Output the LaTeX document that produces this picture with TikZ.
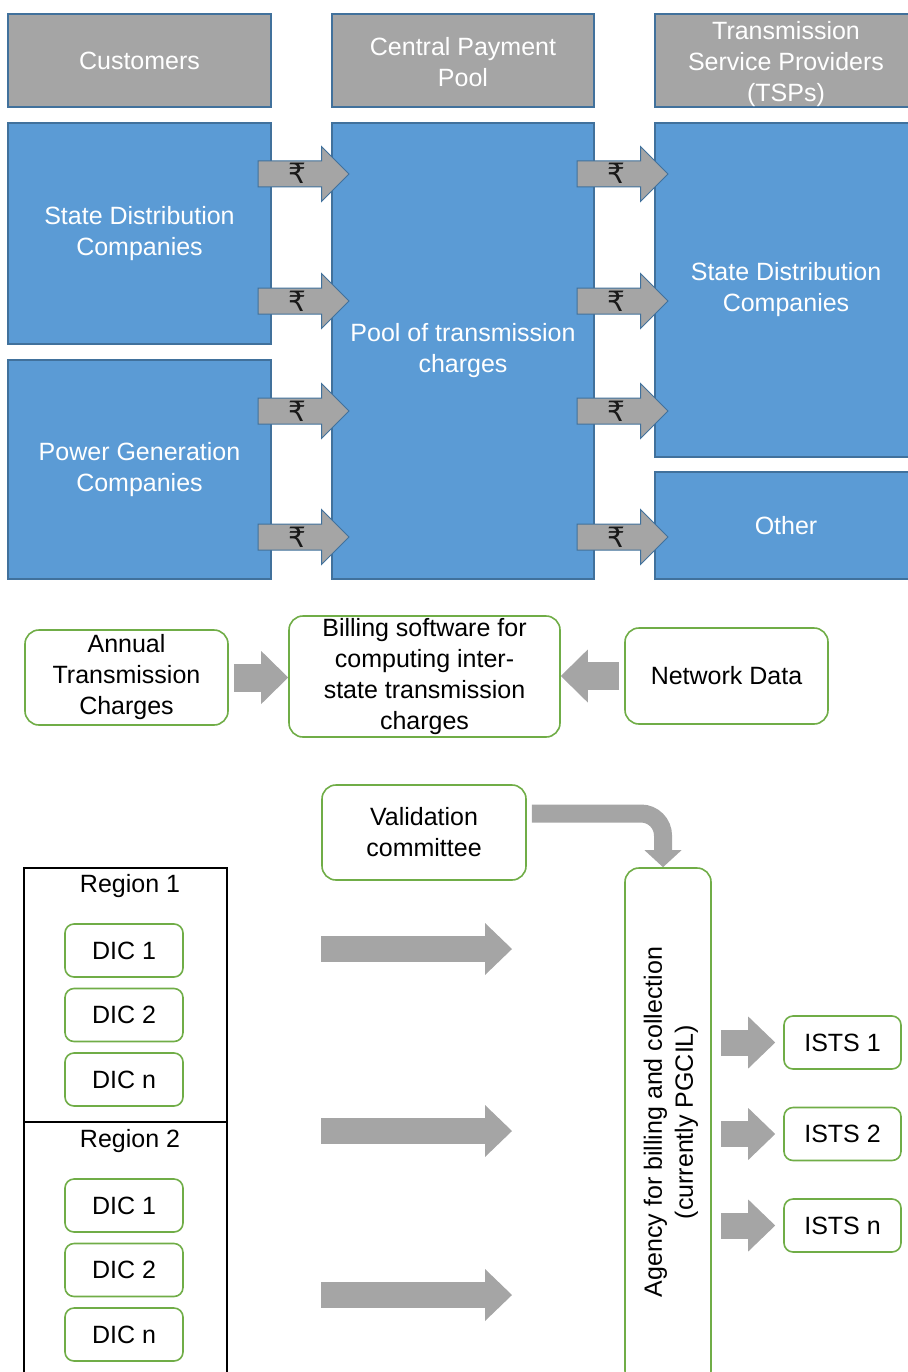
\documentclass[tikz,border=0pt]{standalone}
\usepackage{fontspec}
\setmainfont{Liberation Sans}
\newfontfamily\rupeefont{DejaVu Sans}
\usetikzlibrary{shapes.arrows, arrows.meta, positioning, calc}
\definecolor{hdrgray}{HTML}{A5A5A5}
\definecolor{edgeblue}{HTML}{41719C}
\definecolor{partyblue}{HTML}{5B9BD5}
\definecolor{boxgreen}{HTML}{70AD47}
\definecolor{arrowgray}{HTML}{A5A5A5}

\begin{document}
\begin{tikzpicture}[x=1pt, y=-1pt,
    every node/.style={font=\fontsize{25}{31}\selectfont},
    header/.style={rectangle, draw=edgeblue, fill=hdrgray, line width=1.2pt,
                   text=white, align=center, inner sep=0pt},
    party/.style={rectangle, draw=edgeblue, fill=partyblue, line width=1.2pt,
                  text=white, align=center, inner sep=0pt},
    greenbox/.style={rectangle, draw=boxgreen, fill=white, line width=1.6pt,
                     rounded corners=14pt, align=center, inner sep=0pt},
    dicbox/.style={greenbox, rounded corners=9pt, minimum width=118pt, minimum height=53pt},
    regionbox/.style={rectangle, draw=black, line width=2pt, minimum width=203pt},
    rupee/.style={single arrow, draw=edgeblue, fill=hdrgray, line width=1pt,
                  minimum height=91pt, single arrow head extend=14.5pt,
                  inner xsep=0pt, inner ysep=2.5pt, text height=20pt, text depth=0pt,
                  font=\rupeefont\fontsize{28}{28}\selectfont, text=black!90},
    flow/.style={draw=arrowgray, line width=26pt,
                 -{Triangle[width=52pt, length=27pt, line width=0pt]}}
]
    \useasboundingbox (0,0) rectangle (907,1372);

    % payment pool
    \node[header, minimum width=263pt, minimum height=93pt] (cust) at (139.5,60.5) {Customers};
    \node[header, minimum width=262pt, minimum height=93pt] (cpp)  at (463,60.5) {};
    \node[text=white, align=center] (cpplbl) at (463,62.5) {Central Payment\\Pool};
    \node[header, minimum width=262pt, minimum height=93pt] (tsp)  at (786,60.5) {};
    \node[text=white, align=center] (tsplbl) at (786,64) {Transmission\\Service Providers\\(TSPs)};

    \node[party, minimum width=263pt, minimum height=221pt] (sdcin)  at (139.5,233.5) {State Distribution\\Companies};
    \node[party, minimum width=263pt, minimum height=219pt] (pgc)    at (139.5,469.5) {Power Generation\\Companies};
    \node[party, minimum width=262pt, minimum height=456pt] (pool)   at (463,351) {Pool of transmission\\charges};
    \node[party, minimum width=262pt, minimum height=334pt] (sdcout) at (786,290) {State Distribution\\Companies};
    \node[party, minimum width=262pt, minimum height=107pt] (other)  at (786,525.5) {Other};

    \foreach \y [count=\k] in {174,301,411,537} {
        \node[rupee] (payin\k)  at (297,\y) {₹};
        \node[rupee] (payout\k) at (616,\y) {₹};
    }

    % billing software
    \node[greenbox, minimum width=203pt, minimum height=95pt]  (annual)  at (126.5,677.5) {Annual\\Transmission\\Charges};
    \node[greenbox, minimum width=271pt, minimum height=121pt] (billing) at (424.5,676.5) {Billing software for\\computing inter-\\state transmission\\charges};
    \node[greenbox, minimum width=203pt, minimum height=96pt]  (network) at (726.5,676) {Network Data};

    \draw[flow, line width=28pt, -{Triangle[width=53pt, length=27pt, line width=0pt]}, shorten <=5pt]
        (annual.east) -- (annual.east -| billing.west);
    \draw[flow, line width=28pt, -{Triangle[width=53pt, length=27pt, line width=0pt]}, shorten <=5pt]
        (network.west) -- (network.west -| billing.east);

    % billing and collection
    \node[greenbox, minimum width=204pt, minimum height=95pt] (valid) at (424,832.5) {Validation\\committee};
    \node[greenbox, minimum width=86pt, minimum height=517pt] (agency) at (668,1126.5) {};
    \node[rotate=90, align=center] (agencytxt) at (671,1122) {Agency for billing and collection\\(currently PGCIL)};

    \draw[flow, line width=18pt, -{Triangle[width=37pt, length=17pt, line width=0pt]}, rounded corners=22pt]
        ([xshift=5pt, yshift=19pt]valid.east) -| ([xshift=-5pt]agency.north);

    \node[regionbox, minimum height=254pt] (reg1) at (125.5,995) {};
    \node[regionbox, minimum height=262pt] (reg2) at (125.5,1253) {};
    \node (reg1lbl) at (130,886) {Region 1};
    \node (reg2lbl) at (130,1141) {Region 2};
    \foreach \y/\n in {950.5/1, 1015/2, 1079.5/n}
        \node[dicbox] (rega\n) at (124,\y) {DIC \n};
    \foreach \y/\n in {1205.5/1, 1270/2, 1334.5/n}
        \node[dicbox] (regb\n) at (124,\y) {DIC \n};

    \foreach \y [count=\k] in {949,1131,1295} {
        \coordinate (dues\k) at (321,\y);
        \coordinate (duee\k) at (512,\y);
        \draw[flow] (dues\k) -- (duee\k);
    }

    \foreach \y/\n in {1042.5/1, 1134/2, 1225.5/n} {
        \node[greenbox, rounded corners=9pt, minimum width=117pt, minimum height=53pt] (ists\n) at (842.5,\y) {ISTS \n};
        \draw[flow, shorten <=9pt, shorten >=8pt] (agency.east |- ists\n.west) -- (ists\n.west);
    }
\end{tikzpicture}
\end{document}
